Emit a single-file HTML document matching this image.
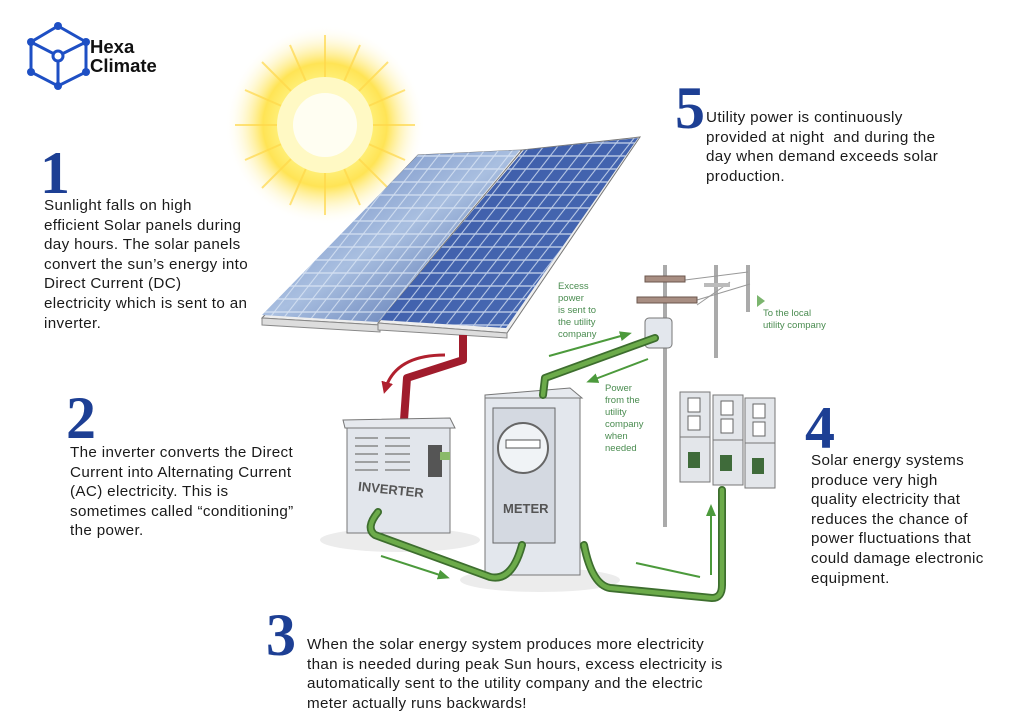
<!DOCTYPE html>
<html><head><meta charset="utf-8"><style>
html,body{margin:0;padding:0;background:#fff;}
body{width:1024px;height:726px;position:relative;overflow:hidden;font-family:"Liberation Sans",sans-serif;}
.n{position:absolute;font-family:"Liberation Serif",serif;color:#1d3f94;font-size:60px;line-height:60px;font-weight:bold;}
.t{position:absolute;color:#1a1a1a;font-size:15.2px;line-height:19.6px;letter-spacing:0.35px;white-space:nowrap;}
.g{position:absolute;color:#4a8c50;font-size:9.5px;line-height:12px;}
</style></head><body>
<svg width="1024" height="726" style="position:absolute;left:0;top:0">
<defs>
<radialGradient id="sun"><stop offset="0" stop-color="#fffef0"/><stop offset="0.45" stop-color="#fff07a"/><stop offset="0.62" stop-color="#ffe455"/><stop offset="0.8" stop-color="#fff0a0" stop-opacity="0.5"/><stop offset="1" stop-color="#fff" stop-opacity="0"/></radialGradient>
<linearGradient id="pl" x1="0" y1="0" x2="1" y2="1"><stop offset="0" stop-color="#5a78b8"/><stop offset="0.5" stop-color="#a9bfe0"/><stop offset="1" stop-color="#3b5aa0"/></linearGradient>
<linearGradient id="pr" x1="0" y1="0" x2="1" y2="1"><stop offset="0" stop-color="#3b5aa8"/><stop offset="1" stop-color="#4a6cb4"/></linearGradient>
<pattern id="grid" width="14" height="13" patternUnits="userSpaceOnUse" patternTransform="skewX(-38)"><rect width="14" height="13" fill="none" stroke="#dfe8f6" stroke-width="1.3" opacity="0.8"/></pattern>
<marker id="ag" markerUnits="userSpaceOnUse" markerWidth="12" markerHeight="10" refX="8" refY="5" orient="auto"><path d="M0,0 L12,5 L0,10z" fill="#4c9a3c"/></marker>
<marker id="ar" markerUnits="userSpaceOnUse" markerWidth="12" markerHeight="12" refX="8" refY="6" orient="auto"><path d="M0,0 L12,6 L0,12z" fill="#b0202e"/></marker>
</defs>
<!-- logo -->
<g stroke="#1e4fc4" stroke-width="3" fill="none">
<path d="M58,26 L86,42 L86,72 L58,86 L31,72 L31,42 Z"/>
<path d="M31,42 L58,56 L86,42 M58,56 L58,86"/>
</g>
<g fill="#1e4fc4"><circle cx="58" cy="26" r="4"/><circle cx="86" cy="42" r="4"/><circle cx="86" cy="72" r="4"/><circle cx="58" cy="86" r="4"/><circle cx="31" cy="72" r="4"/><circle cx="31" cy="42" r="4"/></g>
<circle cx="58" cy="56" r="5" fill="#fff" stroke="#1e4fc4" stroke-width="3"/>
<!-- sun -->
<circle cx="325" cy="125" r="100" fill="url(#sun)"/>
<g stroke="#ffd84a" stroke-width="2" opacity="0.7">
<line x1="325" y1="35" x2="325" y2="215"/><line x1="235" y1="125" x2="415" y2="125"/>
<line x1="262" y1="62" x2="388" y2="188"/><line x1="262" y1="188" x2="388" y2="62"/>
<line x1="290" y1="45" x2="360" y2="205"/><line x1="245" y1="90" x2="405" y2="160"/>
<line x1="245" y1="160" x2="405" y2="90"/><line x1="290" y1="205" x2="360" y2="45"/>
</g>
<circle cx="325" cy="125" r="48" fill="#fff9c4"/>
<circle cx="325" cy="125" r="32" fill="#fffef2"/>
<!-- panels -->
<polygon points="418,155 522,150 380,325 262,318" fill="#eee" stroke="#777"/>
<polygon points="418,155 520,150 378,322 262,315" fill="url(#pl)"/>
<polygon points="418,155 520,150 378,322 262,315" fill="url(#grid)"/>
<polygon points="522,150 640,137 507,333 378,323" fill="#eee" stroke="#777"/>
<polygon points="524,150 638,138 506,328 380,320" fill="url(#pr)"/>
<polygon points="524,150 638,138 506,328 380,320" fill="url(#grid)"/>
<polygon points="262,318 380,325 380,332 262,325" fill="#ddd" stroke="#888"/>
<polygon points="378,323 507,333 507,338 378,330" fill="#ddd" stroke="#888"/>
<!-- red pipe -->
<path d="M463,335 L463,360 L407,378 L404,420" stroke="#a01c2c" stroke-width="8" fill="none" stroke-linejoin="round"/>
<path d="M445,355 Q395,355 385,390" stroke="#b0202e" stroke-width="3" fill="none" marker-end="url(#ar)"/>
<!-- shadows -->
<ellipse cx="400" cy="540" rx="80" ry="12" fill="#ececec"/>
<ellipse cx="540" cy="580" rx="80" ry="12" fill="#ececec"/>
<!-- inverter -->
<polygon points="343,420 450,418 455,428 345,428" fill="#e6e9ee" stroke="#777"/>
<rect x="347" y="428" width="103" height="105" fill="#e2e6ec" stroke="#777"/>
<g stroke="#888" stroke-width="1.5"><line x1="355" y1="438" x2="378" y2="438"/><line x1="355" y1="446" x2="378" y2="446"/><line x1="355" y1="454" x2="378" y2="454"/><line x1="355" y1="462" x2="378" y2="462"/><line x1="355" y1="470" x2="378" y2="470"/><line x1="385" y1="438" x2="410" y2="438"/><line x1="385" y1="446" x2="410" y2="446"/><line x1="385" y1="454" x2="410" y2="454"/><line x1="385" y1="462" x2="410" y2="462"/><line x1="385" y1="470" x2="410" y2="470"/></g>
<rect x="428" y="445" width="14" height="32" fill="#555"/><rect x="440" y="452" width="10" height="8" fill="#8aba6a"/>
<text x="358" y="493" font-size="13" font-weight="bold" fill="#555" font-family="Liberation Sans,sans-serif" transform="rotate(6 380 490)">INVERTER</text>
<!-- meter -->
<polygon points="485,395 570,388 582,398 485,398" fill="#e6e9ee" stroke="#777"/>
<rect x="485" y="398" width="95" height="177" fill="#e3e7ed" stroke="#777"/>
<rect x="493" y="408" width="62" height="135" fill="#d4d9e1" stroke="#666"/>
<circle cx="523" cy="448" r="25" fill="#f0f3f6" stroke="#666" stroke-width="2"/>
<rect x="506" y="440" width="34" height="8" fill="#fff" stroke="#555"/>
<text x="503" y="513" font-size="13" font-weight="bold" fill="#555" font-family="Liberation Sans,sans-serif">METER</text>
<!-- poles -->
<g stroke="#aaa" stroke-width="4"><line x1="665" y1="265" x2="665" y2="527"/><line x1="716" y1="265" x2="716" y2="358"/><line x1="748" y1="265" x2="748" y2="312"/></g>
<g stroke="#999" stroke-width="1"><line x1="685" y1="280" x2="748" y2="272"/><line x1="697" y1="300" x2="750" y2="284"/><line x1="697" y1="305" x2="730" y2="282"/></g>
<rect x="645" y="276" width="40" height="6" fill="#a88e82" stroke="#6b574e"/>
<rect x="637" y="297" width="60" height="6" fill="#a88e82" stroke="#6b574e"/>
<rect x="704" y="283" width="26" height="4" fill="#bbb"/>
<rect x="645" y="318" width="27" height="30" rx="4" fill="#e3e7ed" stroke="#777"/>
<path d="M757,295 L765,301 L757,307z" fill="#7bb56e"/>
<!-- outlets -->
<g stroke="#777" fill="#e3e6ea">
<rect x="680" y="392" width="30" height="45"/><rect x="713" y="395" width="30" height="45"/><rect x="745" y="398" width="30" height="45"/>
<rect x="680" y="437" width="30" height="45"/><rect x="713" y="440" width="30" height="45"/><rect x="745" y="443" width="30" height="45"/>
</g>
<g fill="#3f6b3a"><rect x="688" y="452" width="12" height="16"/><rect x="720" y="455" width="12" height="16"/><rect x="752" y="458" width="12" height="16"/></g>
<g fill="#fff" stroke="#666"><rect x="688" y="398" width="12" height="14"/><rect x="688" y="416" width="12" height="14"/><rect x="721" y="401" width="12" height="14"/><rect x="721" y="419" width="12" height="14"/><rect x="753" y="404" width="12" height="14"/><rect x="753" y="422" width="12" height="14"/></g>
<!-- green pipes -->
<g stroke="#3d6e2e" stroke-width="8" fill="none" stroke-linejoin="round" stroke-linecap="round">
<path d="M378,512 Q365,528 375,535 L490,577 Q512,582 522,545"/>
<path d="M543,395 L545,378 L655,338"/>
<path d="M584,545 Q592,585 610,588 L712,598 Q722,598 722,585 L722,490"/>
</g>
<g stroke="#6cab4a" stroke-width="4.5" fill="none" stroke-linejoin="round" stroke-linecap="round">
<path d="M378,512 Q365,528 375,535 L490,577 Q512,582 522,545"/>
<path d="M543,395 L545,378 L655,338"/>
<path d="M584,545 Q592,585 610,588 L712,598 Q722,598 722,585 L722,490"/>
</g>
<!-- green arrows -->
<g stroke="#4c9a3c" stroke-width="2" fill="none">
<line x1="381" y1="556" x2="446" y2="577" marker-end="url(#ag)"/>
<line x1="636" y1="563" x2="700" y2="577"/>
<line x1="711" y1="575" x2="711" y2="508" marker-end="url(#ag)"/>
<line x1="549" y1="356" x2="628" y2="334" marker-end="url(#ag)"/>
<line x1="648" y1="359" x2="590" y2="381" marker-end="url(#ag)"/>
</g>
</svg>
<div style="position:absolute;left:90px;top:37px;font-size:18.5px;line-height:19px;font-weight:bold;color:#111">Hexa<br>Climate</div>

<div class="n" style="left:40px;top:143px">1</div>
<div class="t" style="left:44px;top:196px">Sunlight falls on high<br>efficient Solar panels during<br>day hours. The solar panels<br>convert the sun’s energy into<br>Direct Current (DC)<br>electricity which is sent to an<br>inverter.</div>

<div class="n" style="left:66px;top:388px">2</div>
<div class="t" style="left:70px;top:443px">The inverter converts the Direct<br>Current into Alternating Current<br>(AC) electricity. This is<br>sometimes called “conditioning”<br>the power.</div>

<div class="n" style="left:266px;top:605px">3</div>
<div class="t" style="left:307px;top:635px">When the solar energy system produces more electricity<br>than is needed during peak Sun hours, excess electricity is<br>automatically sent to the utility company and the electric<br>meter actually runs backwards!</div>

<div class="n" style="left:805px;top:398px">4</div>
<div class="t" style="left:811px;top:451px">Solar energy systems<br>produce very high<br>quality electricity that<br>reduces the chance of<br>power fluctuations that<br>could damage electronic<br>equipment.</div>

<div class="n" style="left:675px;top:78px">5</div>
<div class="t" style="left:706px;top:108px">Utility power is continuously<br>provided at night &nbsp;and during the<br>day when demand exceeds solar<br>production.</div>

<div class="g" style="left:558px;top:281px">Excess<br>power<br>is sent to<br>the utility<br>company</div>
<div class="g" style="left:605px;top:383px">Power<br>from the<br>utility<br>company<br>when<br>needed</div>
<div class="g" style="left:763px;top:308px">To the local<br>utility company</div>
</body></html>
